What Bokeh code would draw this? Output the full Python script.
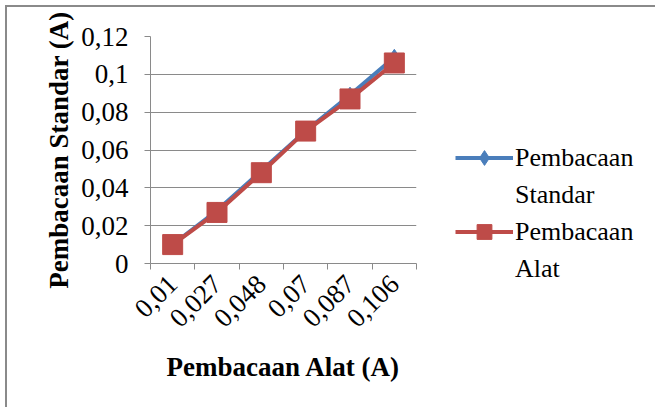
import math
from bokeh.plotting import figure
from bokeh.models import (FixedTicker, Range1d, Legend, LegendItem, CustomJSTickFormatter)
from bokeh.embed import file_html
from bokeh.resources import INLINE

categories = ["0,01", "0,027", "0,048", "0,07", "0,087", "0,106"]
standar = [0.010, 0.028, 0.049, 0.070, 0.089, 0.109]
alat = [0.010, 0.027, 0.048, 0.070, 0.087, 0.106]
y_ticks = [0, 0.02, 0.04, 0.06, 0.08, 0.10, 0.12]

xs = list(range(1, len(categories) + 1))

FONT = "'Liberation Serif', 'Times New Roman', serif"
BLUE = "#4A7EBB"
RED = "#BE4B48"

p = figure(frame_width=266, frame_height=227, output_backend="svg", toolbar_location=None,
           x_range=Range1d(0.5, len(categories) + 0.5), y_range=Range1d(0, 0.12),
           min_border_left=143, min_border_top=29, min_border_right=237, min_border_bottom=144)
p.styles = {"border-left": "2px solid #8a8a8a", "border-top": "2px solid #8a8a8a",
            "margin-left": "5px", "margin-top": "5px"}
p.outline_line_color = None
p.background_fill_color = "white"
p.border_fill_color = "white"

# x axis
p.xaxis.ticker = FixedTicker(ticks=xs, minor_ticks=[x - 0.5 for x in xs] + [xs[-1] + 0.5])
p.xaxis.major_label_overrides = {x: c for x, c in zip(xs, categories)}
p.xaxis.major_label_orientation = math.pi / 4
p.xaxis.major_tick_out = 0
p.xaxis.major_tick_in = 0
p.xaxis.minor_tick_out = 6
p.xaxis.minor_tick_in = 0
p.xaxis.minor_tick_line_color = "#8a8a8a"
p.xaxis.axis_line_color = "#8a8a8a"
p.xaxis.major_label_text_font = FONT
p.xaxis.major_label_text_font_size = "27px"
p.xaxis.major_label_text_color = "black"
p.xaxis.major_label_standoff = 10
p.xaxis.axis_label = "Pembacaan Alat (A)"
p.xaxis.axis_label_text_font = FONT
p.xaxis.axis_label_text_font_style = "bold"
p.xaxis.axis_label_text_font_size = "27px"
p.xaxis.axis_label_text_color = "black"
p.xaxis.axis_label_standoff = 14
p.xgrid.visible = False

# y axis
p.yaxis.ticker = FixedTicker(ticks=y_ticks)
p.yaxis.formatter = CustomJSTickFormatter(code="""
    let s = (Math.round(tick * 100) / 100).toString();
    return s.replace('.', ',');
""")
p.yaxis.major_tick_out = 6
p.yaxis.major_tick_in = 0
p.yaxis.minor_tick_line_color = None
p.yaxis.axis_line_color = "#8a8a8a"
p.yaxis.major_tick_line_color = "#8a8a8a"
p.yaxis.major_label_text_font = FONT
p.yaxis.major_label_text_font_size = "27px"
p.yaxis.major_label_text_color = "black"
p.yaxis.major_label_standoff = 16
p.yaxis.axis_label = "Pembacaan Standar (A)"
p.yaxis.axis_label_text_font = FONT
p.yaxis.axis_label_text_font_style = "bold"
p.yaxis.axis_label_text_font_size = "27px"
p.yaxis.axis_label_text_color = "black"
p.yaxis.axis_label_standoff = 4
p.ygrid.grid_line_color = "#8a8a8a"
p.ygrid.grid_line_width = 1

# series
l1 = p.line(xs, standar, line_color=BLUE, line_width=4)
m1 = p.scatter(xs, standar, marker="diamond", size=16, fill_color=BLUE, line_color=BLUE)
l2 = p.line(xs, alat, line_color=RED, line_width=4)
m2 = p.scatter(xs, alat, marker="square", size=20, fill_color=RED, line_color=RED)
blank = p.line([], [], line_alpha=0)

legend = Legend(items=[
    LegendItem(label="Pembacaan", renderers=[l1, m1]),
    LegendItem(label="Standar", renderers=[blank]),
    LegendItem(label="Pembacaan", renderers=[l2, m2]),
    LegendItem(label="Alat", renderers=[blank]),
], location=(39, -24))
legend.border_line_color = None
legend.background_fill_alpha = 0
legend.padding = 0
legend.margin = 0
legend.spacing = 0
legend.glyph_width = 58
legend.glyph_height = 37
legend.label_height = 37
legend.label_standoff = 2
legend.label_text_font = FONT
legend.label_text_font_size = "26px"
legend.label_text_color = "black"
p.add_layout(legend, "right")

open("out.html", "w").write(file_html(p, INLINE))
